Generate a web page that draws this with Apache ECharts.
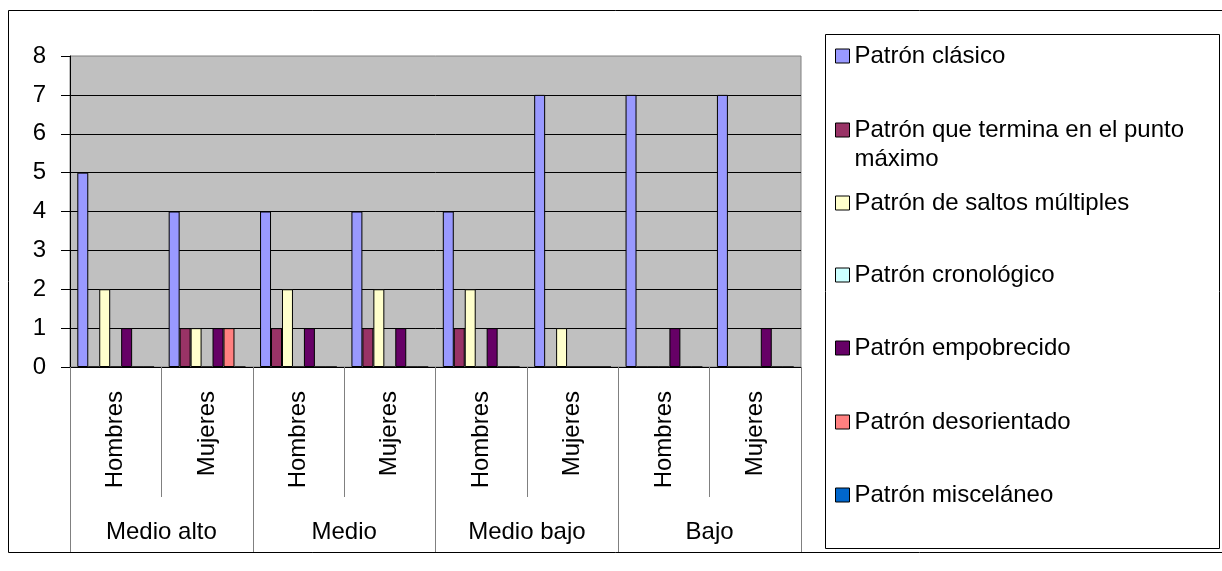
<!DOCTYPE html>
<html>
<head>
<meta charset="utf-8">
<script src="https://cdn.jsdelivr.net/npm/echarts@6/dist/echarts.min.js"></script>
<style>
  html, body { margin: 0; padding: 0; background: #fff; }
  #chart { width: 1222px; height: 571px; }
</style>
</head>
<body>
<div id="chart"></div>
<script>
// categories (sexo within nivel)
const sexos = ["Hombres", "Mujeres", "Hombres", "Mujeres", "Hombres", "Mujeres", "Hombres", "Mujeres"];
const niveles = ["Medio alto", "Medio", "Medio bajo", "Bajo"];

// series
const serieNames = [
  "Patrón clásico",
  "Patrón que termina en el punto máximo",
  "Patrón de saltos múltiples",
  "Patrón cronológico",
  "Patrón empobrecido",
  "Patrón desorientado",
  "Patrón misceláneo"
];
const clasico = [5, 4, 4, 4, 4, 7, 7, 7];
const terminaMaximo = [0, 1, 1, 1, 1, 0, 0, 0];
const saltosMultiples = [2, 1, 2, 2, 2, 1, 0, 0];
const cronologico = [0, 0, 0, 0, 0, 0, 0, 0];
const empobrecido = [1, 1, 1, 1, 1, 0, 1, 1];
const desorientado = [0, 1, 0, 0, 0, 0, 0, 0];
const miscelaneo = [0, 0, 0, 0, 0, 0, 0, 0];
const yTicks = [0, 1, 2, 3, 4, 5, 6, 7, 8];

const colors = ["#9999ff", "#993366", "#ffffcc", "#ccffff", "#660066", "#ff8080", "#0066cc"];
const values = [clasico, terminaMaximo, saltosMultiples, cronologico, empobrecido, desorientado, miscelaneo];

const font = "'Liberation Sans', Arial, sans-serif";
const fs = 24;

let myChart = echarts.init(document.getElementById("chart"));

let seriesList = serieNames.map((name, i) => ({
  name: name,
  type: "bar",
  xAxisIndex: 0,
  barGap: "0%",
  barCategoryGap: "16%",
  itemStyle: { color: colors[i], borderColor: "#000", borderWidth: 1 },
  data: values[i]
}));

// one legend per item, stacked down the box on the right
let legendCenters = [56, 130, 203, 275, 348, 422, 495];
let legendList = serieNames.map((name, i) => {
  let twoLines = i === 1;
  return {
    data: [name],
    orient: "vertical",
    left: 835,
    top: twoLines ? legendCenters[i] - 43.5 : legendCenters[i] - 14.5,
    padding: 0,
    icon: "rect",
    itemWidth: 14,
    itemHeight: 14,
    itemStyle: { borderColor: "#000", borderWidth: 1 },
    selectedMode: false,
    textStyle: { fontFamily: font, fontSize: fs, color: "#000", lineHeight: 29 },
    formatter: twoLines ? () => "\nPatrón que termina en el punto\nmáximo" : "{name}"
  };
});

let option = {
  backgroundColor: "#fff",
  animation: false,
  textStyle: { fontFamily: font },
  graphic: [
    { type: "rect", z: -10, shape: { x: 8.5, y: 10.5, width: 1230, height: 542 }, style: { fill: "none", stroke: "#000", lineWidth: 1 } },
    { type: "rect", z: -10, shape: { x: 825.5, y: 34.5, width: 394, height: 514 }, style: { fill: "none", stroke: "#000", lineWidth: 1 } }
  ],
  legend: legendList,
  grid: {
    left: 70,
    right: 421,
    top: 56,
    bottom: 204,
    show: true,
    backgroundColor: "#c0c0c0",
    borderColor: "#808080",
    borderWidth: 1
  },
  xAxis: [
    {
      type: "category",
      position: "bottom",
      data: sexos,
      axisLine: { show: true, lineStyle: { color: "#000", width: 1 } },
      axisTick: { show: true, interval: 0, length: 130, lineStyle: { color: "#808080" } },
      axisLabel: { interval: 0, rotate: 90, margin: 24, fontSize: fs, color: "#000", fontFamily: font },
      splitLine: { show: false }
    },
    {
      type: "category",
      position: "bottom",
      data: niveles,
      axisLine: { show: false },
      axisTick: { show: true, interval: 0, length: 185, lineStyle: { color: "#808080" } },
      axisLabel: { interval: 0, margin: 153, fontSize: fs, color: "#000", fontFamily: font },
      splitLine: { show: false }
    }
  ],
  yAxis: {
    type: "value",
    min: yTicks[0],
    max: yTicks[yTicks.length - 1],
    interval: 1,
    axisLine: { show: true, lineStyle: { color: "#000" } },
    axisTick: { show: true, length: 9, lineStyle: { color: "#000" } },
    axisLabel: { margin: 24, fontSize: fs, color: "#000", fontFamily: font },
    splitLine: { show: true, showMaxLine: false, lineStyle: { color: "#000", width: 1 } }
  },
  series: seriesList
};
myChart.setOption(option);
</script>
</body>
</html>
